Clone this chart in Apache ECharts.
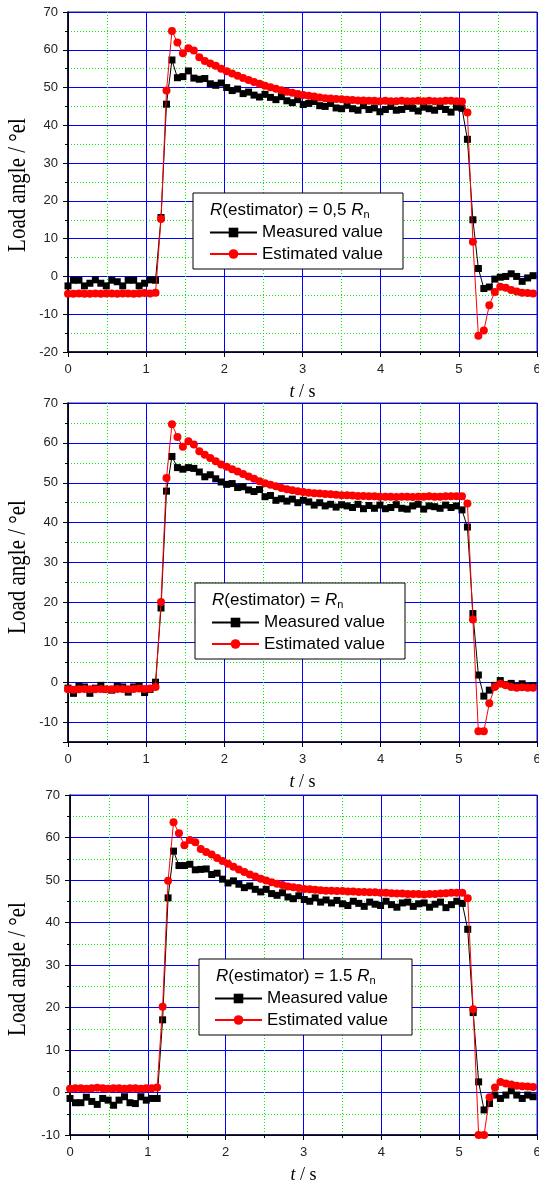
<!DOCTYPE html>
<html>
<head>
<meta charset="utf-8">
<script src="https://cdn.jsdelivr.net/npm/echarts@6/dist/echarts.min.js"></script>
<style>
  html, body { margin: 0; padding: 0; background: #fff; }
  #chart { width: 539px; height: 1180px; }
</style>
</head>
<body>
<div id="chart"></div>
<script>
// Sampling instants (s), shared by all three runs
const time = [0,0.07,0.14,0.21,0.28,0.35,0.42,0.49,0.56,0.63,0.7,0.77,0.84,0.91,0.98,1.05,1.12,
  1.19,1.26,1.33,1.4,1.47,1.54,1.61,1.68,1.75,1.82,1.89,1.96,2.03,2.1,2.17,2.24,2.31,2.38,2.45,
  2.52,2.59,2.66,2.73,2.8,2.87,2.94,3.01,3.08,3.15,3.22,3.29,3.36,3.43,3.5,3.57,3.64,3.71,3.78,
  3.85,3.92,3.99,4.06,4.13,4.2,4.27,4.34,4.41,4.48,4.55,4.62,4.69,4.76,4.83,4.9,4.97,5.04,5.11,
  5.18,5.25,5.32,5.39,5.46,5.53,5.6,5.67,5.74,5.81,5.88,5.95];

// Run 1: R(estimator) = 0,5 Rn
const measured05 = [-2.5,-1.0,-1.0,-2.5,-1.8,-0.9,-1.8,-2.5,-1.0,-1.4,-2.5,-1.0,-1.0,-2.5,-1.8,-0.9,-1.0,
  15.6,45.6,57.3,52.6,52.9,54.4,52.5,52.2,
  52.4,51.0,50.6,51.2,50.0,49.2,49.6,48.4,48.8,48.0,47.5,48.2,47.4,46.8,47.6,46.5,46.0,46.8,45.5,45.8,
  46.3,45.2,45.0,45.8,44.6,44.4,45.3,44.4,44.0,45.2,44.2,44.6,43.6,44.2,45.0,44.0,44.2,45.0,44.5,43.8,
  44.8,44.4,44.0,45.0,44.2,43.5,44.8,44.5,
  36.3,15.0,2.1,-3.2,-2.8,-0.7,-0.2,0.0,0.7,0.0,-1.3,-0.4,0.2];
const estimated05 = [-4.6,-4.6,-4.5,-4.6,-4.6,-4.5,-4.6,-4.5,-4.5,-4.6,-4.5,-4.5,-4.6,-4.5,-4.4,-4.5,-4.3,
  15.2,49.2,65.0,61.9,59.1,60.4,59.8,58.0,
  57.0,56.4,55.8,55.0,54.3,53.7,53.1,52.5,52.0,51.5,51.0,50.5,50.1,49.7,49.3,48.9,48.6,48.3,48.0,47.8,
  47.6,47.4,47.2,47.1,47.0,46.9,46.8,46.7,46.6,46.6,46.5,46.5,46.4,46.5,46.4,46.4,46.5,46.4,46.4,46.5,
  46.4,46.5,46.4,46.4,46.5,46.5,46.4,46.3,
  43.4,9.2,-15.7,-14.3,-7.6,-4.1,-2.7,-3.0,-3.6,-4.0,-4.3,-4.4,-4.5];

// Run 2: R(estimator) = Rn
const measured10 = [-1.5,-2.8,-1.0,-1.2,-2.8,-1.5,-0.8,-1.8,-2.0,-1.0,-1.2,-2.5,-1.2,-0.9,-2.6,-1.8,0.0,
  18.6,47.9,56.6,53.8,53.4,53.8,53.6,52.7,
  51.5,52.0,51.0,50.2,49.6,49.8,48.8,49.0,48.2,47.8,48.3,46.5,46.8,45.6,46.0,45.4,45.9,45.0,45.6,45.2,
  44.4,45.0,44.2,44.6,43.9,44.5,44.2,43.8,44.6,43.5,44.3,43.6,44.4,43.5,43.8,44.5,43.6,43.4,44.2,44.6,
  43.4,44.2,44.0,43.6,44.4,43.8,44.2,43.2,
  38.9,17.2,1.8,-3.5,-2.0,-0.8,0.4,-0.6,-0.3,-1.0,-0.4,-1.1,-0.9];
const estimated10 = [-1.8,-1.9,-1.8,-1.7,-1.8,-1.8,-1.7,-1.8,-1.8,-1.7,-1.7,-1.8,-1.7,-1.6,-1.7,-1.6,-1.2,
  20.1,51.2,64.7,61.5,59.0,60.4,59.6,57.9,
  57.0,56.2,55.4,54.6,54.0,53.4,52.8,52.2,51.6,51.0,50.4,49.9,49.5,49.1,48.7,48.4,48.1,47.9,47.7,47.5,
  47.4,47.3,47.2,47.1,47.0,46.9,46.9,46.8,46.7,46.7,46.6,46.6,46.5,46.5,46.5,46.4,46.5,46.5,46.4,46.5,
  46.5,46.6,46.5,46.5,46.6,46.6,46.6,46.6,
  44.8,15.7,-12.3,-12.3,-5.3,-1.2,-0.4,-0.8,-1.2,-1.4,-1.3,-1.4,-1.4];

// Run 3: R(estimator) = 1.5 Rn
const measured15 = [-1.4,-2.4,-2.4,-1.1,-2.1,-2.8,-1.4,-1.8,-3.0,-1.8,-1.0,-2.4,-2.6,-1.0,-1.8,-1.4,-1.4,
  17.1,45.8,56.8,53.4,53.4,53.7,52.4,52.5,
  52.6,51.3,51.6,50.2,49.3,49.8,49.0,48.2,48.6,47.8,47.2,47.8,46.8,46.4,47.0,46.0,45.6,46.3,45.4,45.0,
  45.8,44.8,45.3,44.6,45.2,44.4,44.0,45.0,44.5,43.8,44.8,44.3,44.0,45.0,44.2,43.6,44.6,44.8,43.8,44.4,
  44.6,43.6,44.3,44.8,43.5,44.2,45.0,44.5,
  38.4,18.8,2.5,-4.1,-2.6,-0.6,-1.4,-0.6,0.4,-0.6,-1.4,-0.6,-1.0];
const estimated15 = [0.9,1.0,1.0,0.9,1.0,1.1,1.0,0.9,1.0,1.0,0.9,1.0,1.0,0.9,1.0,1.0,1.2,
  20.2,49.8,63.6,61.0,58.2,59.4,58.9,57.3,
  56.6,56.0,55.2,54.5,53.8,53.1,52.5,51.9,51.3,50.8,50.3,49.9,49.5,49.1,48.8,48.5,48.3,48.1,47.9,47.8,
  47.7,47.6,47.5,47.5,47.4,47.4,47.3,47.3,47.2,47.2,47.1,47.1,47.0,47.0,46.9,46.8,46.8,46.7,46.7,46.7,
  46.6,46.7,46.7,46.8,46.9,47.0,47.0,47.0,
  45.7,19.6,-10,-10,-1.1,1.2,2.5,2.1,1.9,1.6,1.5,1.4,1.3];

// Axis settings
const xTicks = { min: 0, max: 6, interval: 1 };
const yRanges = [
  { min: -20, max: 70, interval: 10 },
  { min: -15, max: 70, splitNumber: 8 },
  { min: -10, max: 70, interval: 10 }
];
const legendTitles = [
  '{i|R}(estimator) = 0,5 {i|R}{s|n}',
  '{i|R}(estimator) = {i|R}{s|n}',
  '{i|R}(estimator) = 1.5 {i|R}{s|n}'
];
const measuredName = 'Measured value';
const estimatedName = 'Estimated value';

const panels = [
  { grid: { left: 68, top: 12, width: 469, height: 340 }, m: measured05, e: estimated05,
    box: [193, 193, 210, 76], title: [210, 210], legend: [209, 224], yName: 185 },
  { grid: { left: 68, top: 403, width: 469, height: 339 }, m: measured10, e: estimated10,
    box: [195, 583, 210, 76], title: [212, 600], legend: [211, 614], yName: 567 },
  { grid: { left: 70, top: 795, width: 467, height: 340 }, m: measured15, e: estimated15,
    box: [199, 959, 213, 76], title: [216, 976], legend: [214, 990], yName: 969 }
];

const SANS = 'Liberation Sans, Arial, sans-serif';
const SERIF = 'Liberation Serif, Times New Roman, serif';

const grids = [], xAxes = [], yAxes = [], series = [], legends = [], graphics = [];

panels.forEach((p, i) => {
  grids.push(Object.assign({
    show: true, borderColor: '#333', borderWidth: 1, backgroundColor: '#fff',
    containLabel: false, outerBoundsMode: 'none'
  }, p.grid));
  xAxes.push(Object.assign({
    type: 'value', gridIndex: i,
    name: '{it|t} / s', nameLocation: 'middle', nameGap: 31,
    nameTextStyle: { fontFamily: SERIF, fontSize: 18, color: '#000', rich: { it: { fontStyle: 'italic', fontFamily: SERIF, fontSize: 18 } } },
    axisLine: { show: true, onZero: false, lineStyle: { color: '#000', width: 1.6 } },
    axisTick: { show: true, inside: false, length: 5, lineStyle: { color: '#000' } },
    minorTick: { show: true, splitNumber: 2, length: 3, lineStyle: { color: '#000' } },
    axisLabel: { color: '#222', fontFamily: SANS, fontSize: 13, margin: 11, hideOverlap: false },
    splitLine: { show: true, lineStyle: { color: '#0000ff', width: 1 } },
    minorSplitLine: { show: true, lineStyle: { color: '#00ee00', width: 1, type: [1, 2] } }
  }, xTicks));
  yAxes.push(Object.assign({
    type: 'value', gridIndex: i,
    axisLine: { show: true, onZero: false, lineStyle: { color: '#000', width: 1.6 } },
    axisTick: { show: true, inside: false, length: 5, lineStyle: { color: '#000' } },
    minorTick: { show: true, splitNumber: 2, length: 3, lineStyle: { color: '#000' } },
    axisLabel: { color: '#222', fontFamily: SANS, fontSize: 13, margin: 10, showMinLabel: i !== 1 },
    splitLine: { show: true, lineStyle: { color: '#0000ff', width: 1 } },
    minorSplitLine: { show: true, lineStyle: { color: '#00ee00', width: 1, type: [1, 2] } }
  }, yRanges[i]));

  series.push({
    name: measuredName, type: 'line', xAxisIndex: i, yAxisIndex: i,
    data: time.map((x, k) => [x, p.m[k]]),
    symbol: 'rect', symbolSize: 7, showAllSymbol: true,
    lineStyle: { color: '#000', width: 1 }, itemStyle: { color: '#000' },
    animation: false, z: 3
  });
  series.push({
    name: estimatedName, type: 'line', xAxisIndex: i, yAxisIndex: i,
    data: time.map((x, k) => [x, p.e[k]]),
    symbol: 'circle', symbolSize: 8, showAllSymbol: true,
    lineStyle: { color: '#ff0000', width: 1 }, itemStyle: { color: '#ff0000' },
    animation: false, z: 4
  });

  legends.push({
    orient: 'vertical', left: p.legend[0], top: p.legend[1], padding: 0,
    itemWidth: 47, itemHeight: 12, itemGap: 4.5,
    selectedMode: false, z: 20,
    data: [measuredName, estimatedName],
    textStyle: { fontFamily: SANS, fontSize: 17, color: '#000' }
  });

  // legend frame and heading
  graphics.push({
    type: 'rect', z: 15,
    shape: { x: p.box[0], y: p.box[1], width: p.box[2], height: p.box[3] },
    style: { fill: '#fff', stroke: '#000', lineWidth: 1 }
  });
  graphics.push({
    type: 'text', z: 16, x: p.title[0], y: p.title[1],
    style: {
      text: legendTitles[i], fontFamily: SANS, fontSize: 17, fill: '#000',
      verticalAlign: 'middle', lineHeight: 20,
      rich: {
        i: { fontStyle: 'italic', fontFamily: SANS, fontSize: 17, lineHeight: 20 },
        s: { fontFamily: SANS, fontSize: 11, lineHeight: 4, verticalAlign: 'bottom' }
      }
    }
  });
  // vertical axis title (glyphs slightly widened)
  graphics.push({
    type: 'text', z: 16, x: 19, y: p.yName, rotation: Math.PI / 2, scaleY: 1.15,
    style: {
      text: 'Load angle / °el', fontFamily: SERIF, fontSize: 21, fill: '#000',
      align: 'center', verticalAlign: 'middle'
    }
  });
});

const chart = echarts.init(document.getElementById('chart'), null, { renderer: 'canvas' });
chart.setOption({
  animation: false,
  backgroundColor: '#fff',
  grid: grids, xAxis: xAxes, yAxis: yAxes, series: series,
  legend: legends, graphic: { elements: graphics }
});
</script>
</body>
</html>
